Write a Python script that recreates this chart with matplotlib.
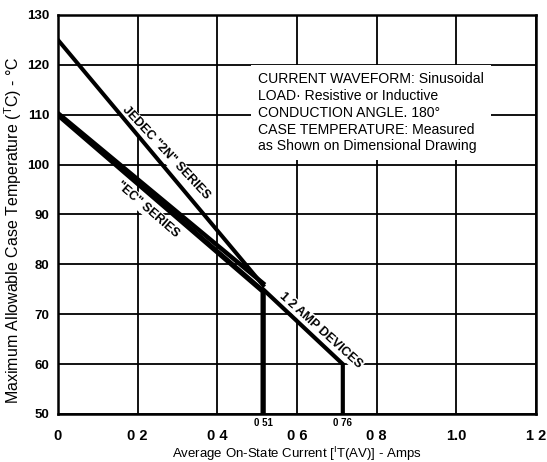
import numpy as np
import matplotlib
matplotlib.use('Agg')
import matplotlib.pyplot as plt

plt.rcParams['font.family'] = ['Liberation Sans', 'DejaVu Sans']
plt.rcParams['mathtext.fontset'] = 'custom'
plt.rcParams['mathtext.rm'] = 'Liberation Sans'

# ── data ────────────────────────────────────────────────────────────────────
jedec_x = [0.0, 0.515]
jedec_y = [125, 75.8]
ec_x = [0.0, 0.515, 0.515]          # lower edge of the EC band + drop
ec_y = [110, 74.6, 50]
ec_top_x = [0.0, 0.515]             # upper edge of the EC band
ec_top_y = [110.3, 76.2]
amp_x = [0.515, 0.715, 0.715]       # 1.2 A devices continuation + drop
amp_y = [75.0, 60, 50]

xticks = [0.0, 0.2, 0.4, 0.6, 0.8, 1.0, 1.2]
xtick_labels = ['0', '0 2', '0 4', '0 6', '0 8', '1.0', '1 2']
yticks = [50, 60, 70, 80, 90, 100, 110, 120, 130]
marks = [0.515, 0.715]
mark_labels = ['0 51', '0 76']

note = ('CURRENT WAVEFORM: Sinusoidal\n'
        'LOAD\u00b7 Resistive or Inductive\n'
        'CONDUCTION ANGLE. 180\u00b0\n'
        'CASE TEMPERATURE: Measured\n'
        'as Shown on Dimensional Drawing')

fig = plt.figure(figsize=(5.47, 4.62), dpi=100)
ax = fig.add_axes([58 / 547, 48 / 462, 478 / 547, 399 / 462])

ax.set_xlim(0, 1.2)
ax.set_ylim(50, 130)
ax.set_xticks(xticks)
ax.set_xticklabels(xtick_labels, fontsize=10.5, fontweight='bold')
ax.set_yticks(yticks)
ax.set_yticklabels([str(v) for v in yticks], fontsize=9.5, fontweight='bold')
ax.tick_params(axis='both', length=0)
ax.tick_params(axis='x', pad=11)
ax.tick_params(axis='y', pad=6)

ax.grid(True, color='black', linewidth=1.3)
ax.set_axisbelow(True)
for sp in ax.spines.values():
    sp.set_linewidth(1.8)

ax.plot(jedec_x, jedec_y, color='black', lw=2.9, solid_joinstyle='miter', zorder=4)
ax.plot(ec_top_x, ec_top_y, color='black', lw=3.2, solid_joinstyle='miter', zorder=4)
ax.plot(ec_x, ec_y, color='black', lw=3.8, solid_joinstyle='miter', zorder=4)
ax.plot(amp_x, amp_y, color='black', lw=3.0, solid_joinstyle='miter', zorder=4)

# small value marks under the axis
for xv, lab in zip(marks, mark_labels):
    ax.annotate(lab, xy=(xv, 50), xytext=(0, -3), textcoords='offset points',
                ha='center', va='top', fontsize=7, fontweight='bold')

wbox = dict(facecolor='white', edgecolor='none', pad=1.0)
ax.text(0.27, 102.3, 'JEDEC "2N" SERIES', rotation=-47, ha='center', va='center',
        fontsize=9, fontweight='bold', bbox=wbox, rotation_mode='anchor', zorder=3)
ax.text(0.226, 90.9, '"EC" SERIES', rotation=-41, ha='center', va='center',
        fontsize=9, fontweight='bold', bbox=wbox, rotation_mode='anchor', zorder=3)
ax.text(0.66, 66.8, '1 2 AMP DEVICES', rotation=-42, ha='center', va='center',
        fontsize=9, fontweight='bold', bbox=wbox, rotation_mode='anchor', zorder=3)

ax.text(0.502, 110.4, note, ha='left', va='center', fontsize=10.1,
        linespacing=1.25, zorder=3,
        bbox=dict(facecolor='white', edgecolor='none', pad=5))

ax.set_xlabel(r'Average On-State Current [$^{\mathrm{I}}$T(AV)] - Amps', fontsize=9.5)
ax.xaxis.set_label_coords(0.5, -0.077)
ax.set_ylabel(r'Maximum Allowable Case Temperature ($^{\mathrm{T}}$C) - °C', fontsize=11.5)
ax.yaxis.set_label_coords(-0.071, 0.46)

fig.savefig('out.png', dpi=100)
